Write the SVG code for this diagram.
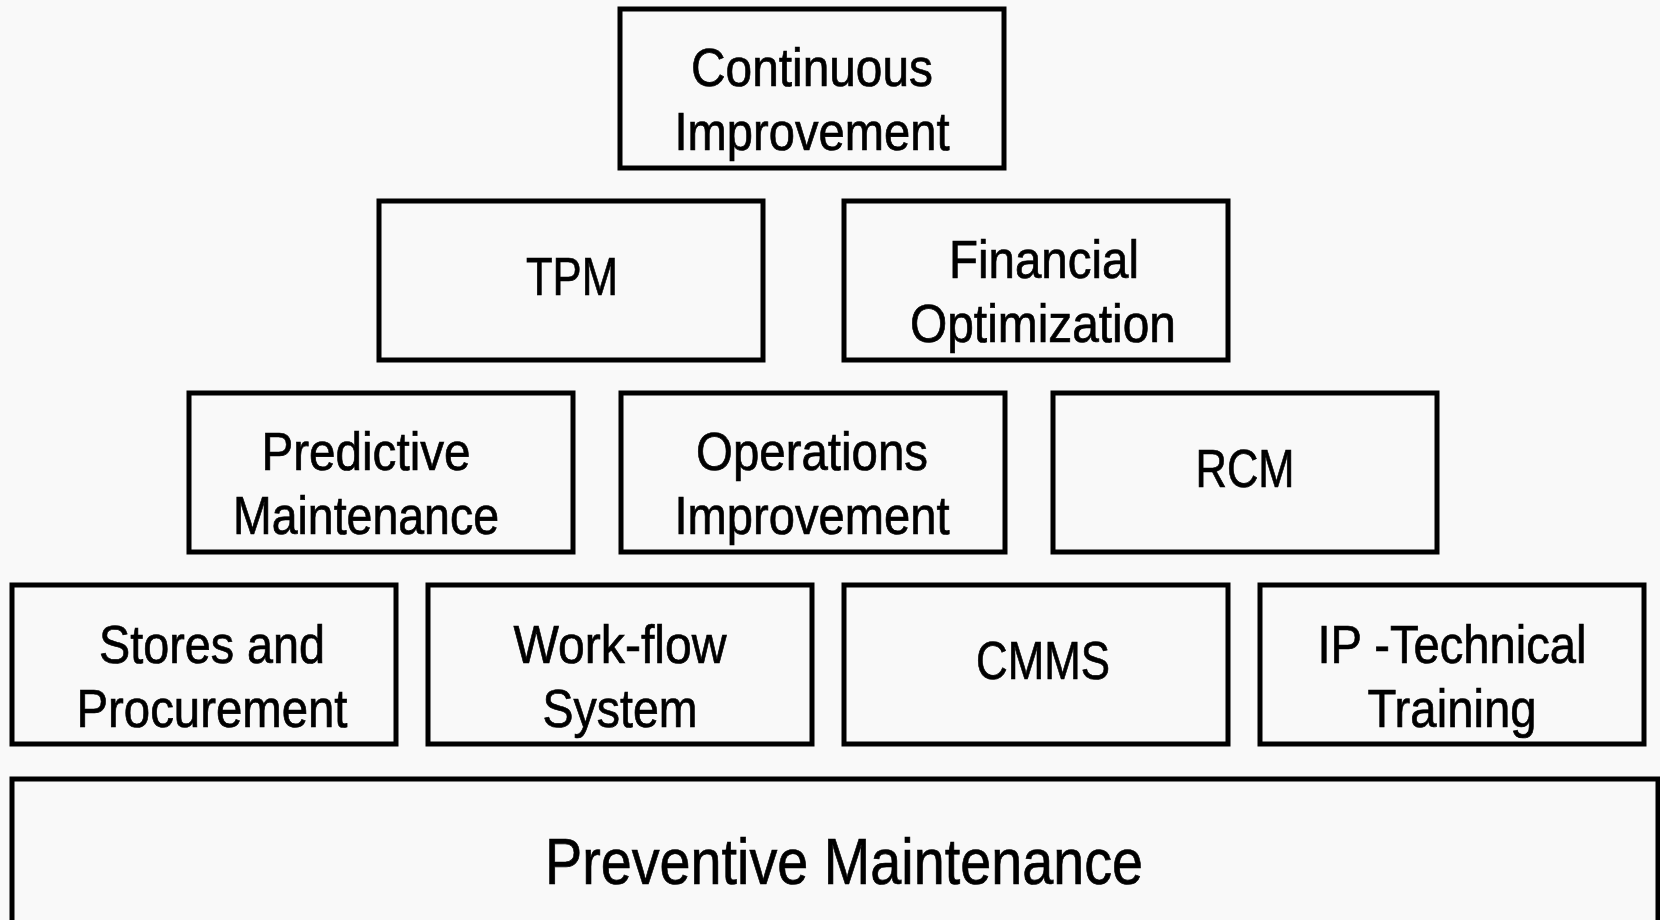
<svg xmlns="http://www.w3.org/2000/svg" width="1660" height="920" viewBox="0 0 1660 920">
<style>
.box{fill:none;stroke:#000;stroke-width:5}
.t{font-family:"Liberation Sans Narrow","Arial Narrow","Liberation Sans",Arial,sans-serif;font-size:53px;fill:#000;stroke:#000;stroke-width:0.7;text-anchor:middle}
.big{font-size:65px}
</style>
<rect x="0" y="0" width="1660" height="920" fill="#f9f9f9"/>
<g id="connectors"/>
<g id="continuous-improvement">
<rect class="box" x="620" y="9" width="384" height="159"/>
<text class="t" x="812" y="86" textLength="242" lengthAdjust="spacingAndGlyphs">Continuous</text>
<text class="t" x="812" y="150" textLength="275" lengthAdjust="spacingAndGlyphs">Improvement</text>
</g>
<g id="tpm">
<rect class="box" x="379" y="201" width="384" height="159"/>
<text class="t" x="572" y="295" textLength="92" lengthAdjust="spacingAndGlyphs">TPM</text>
</g>
<g id="financial-optimization">
<rect class="box" x="844" y="201" width="384" height="159"/>
<text class="t" x="1044" y="278" textLength="190" lengthAdjust="spacingAndGlyphs">Financial</text>
<text class="t" x="1043" y="342" textLength="266" lengthAdjust="spacingAndGlyphs">Optimization</text>
</g>
<g id="predictive-maintenance">
<rect class="box" x="189" y="393" width="384" height="159"/>
<text class="t" x="366" y="470" textLength="209" lengthAdjust="spacingAndGlyphs">Predictive</text>
<text class="t" x="366" y="534" textLength="266" lengthAdjust="spacingAndGlyphs">Maintenance</text>
</g>
<g id="operations-improvement">
<rect class="box" x="621" y="393" width="384" height="159"/>
<text class="t" x="812" y="470" textLength="232" lengthAdjust="spacingAndGlyphs">Operations</text>
<text class="t" x="812" y="534" textLength="275" lengthAdjust="spacingAndGlyphs">Improvement</text>
</g>
<g id="rcm">
<rect class="box" x="1053" y="393" width="384" height="159"/>
<text class="t" x="1245" y="487" textLength="99" lengthAdjust="spacingAndGlyphs">RCM</text>
</g>
<g id="stores-procurement">
<rect class="box" x="12" y="585" width="384" height="159"/>
<text class="t" x="212" y="663" textLength="226" lengthAdjust="spacingAndGlyphs">Stores and</text>
<text class="t" x="212" y="727" textLength="271" lengthAdjust="spacingAndGlyphs">Procurement</text>
</g>
<g id="work-flow-system">
<rect class="box" x="428" y="585" width="384" height="159"/>
<text class="t" x="620" y="663" textLength="213" lengthAdjust="spacingAndGlyphs">Work-flow</text>
<text class="t" x="620" y="727" textLength="155" lengthAdjust="spacingAndGlyphs">System</text>
</g>
<g id="cmms">
<rect class="box" x="844" y="585" width="384" height="159"/>
<text class="t" x="1043" y="679" textLength="134" lengthAdjust="spacingAndGlyphs">CMMS</text>
</g>
<g id="ip-technical-training">
<rect class="box" x="1260" y="585" width="384" height="159"/>
<text class="t" x="1452" y="663" textLength="269" lengthAdjust="spacingAndGlyphs">IP -Technical</text>
<text class="t" x="1452" y="727" textLength="169" lengthAdjust="spacingAndGlyphs">Training</text>
</g>
<g id="preventive-maintenance">
<rect class="box" x="12" y="779" width="1646" height="160"/>
<text class="t big" x="844" y="884" textLength="598" lengthAdjust="spacingAndGlyphs">Preventive Maintenance</text>
</g>
</svg>
